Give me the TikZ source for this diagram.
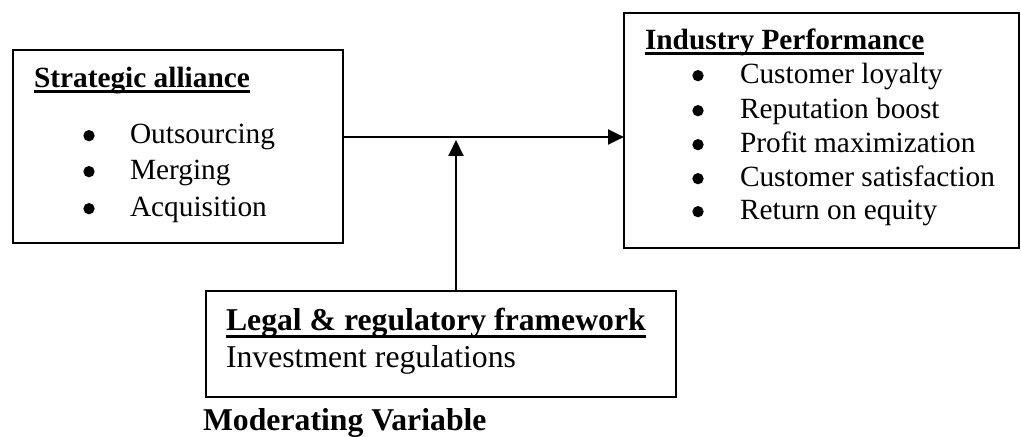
\documentclass[tikz,border=0pt]{standalone}
\usepackage{fontspec}
\setmainfont{Liberation Serif}
\usetikzlibrary{arrows.meta}
\tikzset{
  boxnode/.style={draw=black, line width=1.5pt, rectangle, inner sep=0pt, outer sep=0pt, anchor=north west},
  txt/.style={anchor=base west, inner sep=0pt, outer sep=0pt, font=\fontsize{22}{26}\selectfont},
  txtb/.style={txt, font=\fontsize{22}{26}\selectfont\bfseries},
  bul/.style={circle, fill=black, inner sep=0pt, outer sep=0pt, minimum size=8.5pt, yshift=5.5pt},
  ltxt/.style={anchor=base west, inner sep=0pt, outer sep=0pt, font=\fontsize{23.8}{28}\selectfont},
  ltxtb/.style={ltxt, font=\fontsize{23.8}{28}\selectfont\bfseries},
  ul/.style={line width=1.8pt},
  arr/.style={line width=2.2pt, -{Triangle[length=12pt, width=11pt]}},
}
\begin{document}
\begin{tikzpicture}[x=0.75pt, y=-0.75pt]
\useasboundingbox (0,0) rectangle (1021,436);
% boxes
\node[boxnode, minimum width=247.5pt, minimum height=144.75pt] (sa) at (13,50) {};
\node[boxnode, minimum width=296.25pt, minimum height=176.25pt] (ip) at (624,13) {};
\node[boxnode, minimum width=352.5pt, minimum height=79.5pt] (lr) at (206,291) {};
% left box text
\node[txtb] (satitle) at (34,87) {Strategic alliance};
\draw[ul] ([yshift=-3.3pt]satitle.base west) -- ([yshift=-3.3pt]satitle.base east);
\node[bul] (sab1) at (89,143) {};
\node[txt] (sat1) at (130,143) {Outsourcing};
\node[bul] (sab2) at (89,179) {};
\node[txt] (sat2) at (130,179) {Merging};
\node[bul] (sab3) at (89,216) {};
\node[txt] (sat3) at (130,216) {Acquisition};
% right box text
\node[txtb] (iptitle) at (645,49) {Industry Performance};
\draw[ul] ([yshift=-3.3pt]iptitle.base west) -- ([yshift=-3.3pt]iptitle.base east);
\node[bul] (ipb1) at (698,83) {};
\node[txt] (ipt1) at (740,83) {Customer loyalty};
\node[bul] (ipb2) at (698,118) {};
\node[txt] (ipt2) at (740,118) {Reputation boost};
\node[bul] (ipb3) at (698,152) {};
\node[txt] (ipt3) at (740,152) {Profit maximization};
\node[bul] (ipb4) at (698,186) {};
\node[txt] (ipt4) at (740,186) {Customer satisfaction};
\node[bul] (ipb5) at (698,219) {};
\node[txt] (ipt5) at (740,219) {Return on equity};
% lower box text
\node[ltxtb] (lrtitle) at (226,330) {Legal \& regulatory framework};
\draw[line width=2.6pt] ([yshift=-5pt]lrtitle.base west) -- ([yshift=-5pt]lrtitle.base east);
\node[ltxt] (lrt1) at (226,367) {Investment regulations};
\node[ltxtb] (mv) at (203,430) {Moderating Variable};
% connectors
\coordinate (h) at (456,137);
\draw[arr] (sa.east |- h) -- (ip.west |- h);
\draw[arr] (lr.north -| h) -- ([yshift=-2.2pt]h);
\end{tikzpicture}
\end{document}
